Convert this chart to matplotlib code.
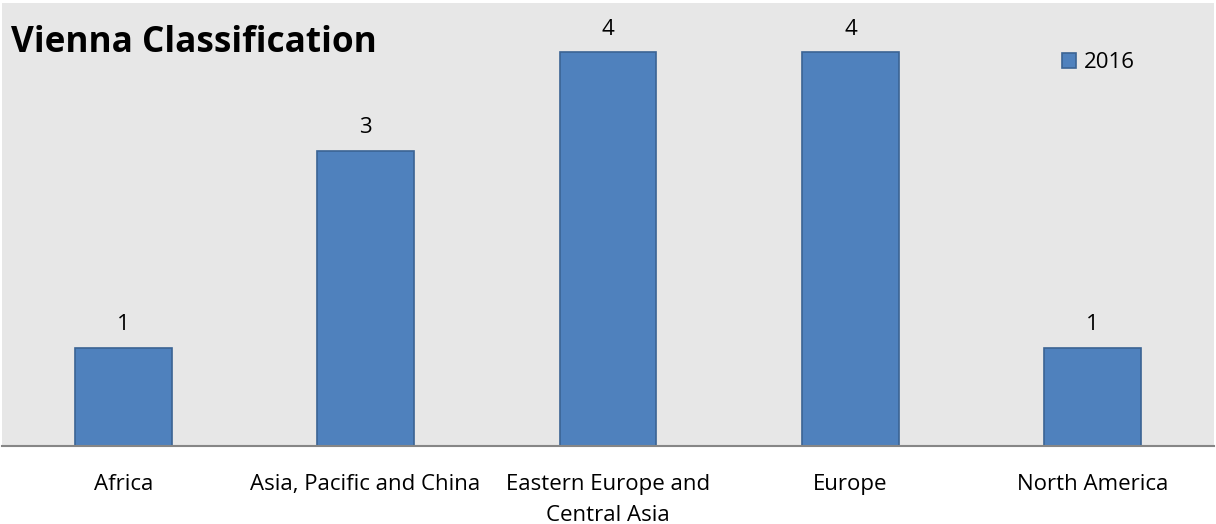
import matplotlib
matplotlib.use("Agg")
import matplotlib.pyplot as plt

categories = ["Africa", "Asia, Pacific and China", "Eastern Europe and\nCentral Asia", "Europe", "North America"]
values_2016 = [1, 3, 4, 4, 1]
series_name = "2016"
title = "Vienna Classification"

plt.rcParams['font.family'] = ['Open Sans', 'DejaVu Sans']

fig = plt.figure(figsize=(12.16, 5.24), dpi=100)
fig.patch.set_facecolor('white')
ax = fig.add_axes([2/1216, 78/524, 1 - 4/1216, (446 - 3)/524])
ax.set_facecolor('#e7e7e7')

x = list(range(len(categories)))
bars = ax.bar(x, values_2016, width=0.4, color='#4f81bd', edgecolor='#3b6494', linewidth=1.2, label=series_name, zorder=2)
for xi, v in zip(x, values_2016):
    ax.annotate(str(v), (xi, v), xytext=(0, 9), textcoords='offset points', ha='center', va='bottom', fontsize=16, color='black')

ax.set_xlim(-0.5, len(categories) - 0.5)
ax.set_ylim(0, 4.5)
ax.set_yticks([])
ax.set_xticks(x)
ax.set_xticklabels(categories, fontsize=16, linespacing=1.62)
ax.tick_params(axis='x', length=0, pad=20)
for s in ['top', 'right', 'left']:
    ax.spines[s].set_visible(False)
ax.spines['bottom'].set_color('#868686')
ax.spines['bottom'].set_linewidth(1.5)

fig.text(11/1216, 1 - 43/524, title, fontsize=25.3, fontweight='bold', ha='left', va='center')
leg = ax.legend(loc='upper left', bbox_to_anchor=(1043/1216, 1 - 29/443), frameon=False, fontsize=16,
                handlelength=0.65, handleheight=0.65, handletextpad=0.35)

fig.savefig("out.png", dpi=100, facecolor='white')
